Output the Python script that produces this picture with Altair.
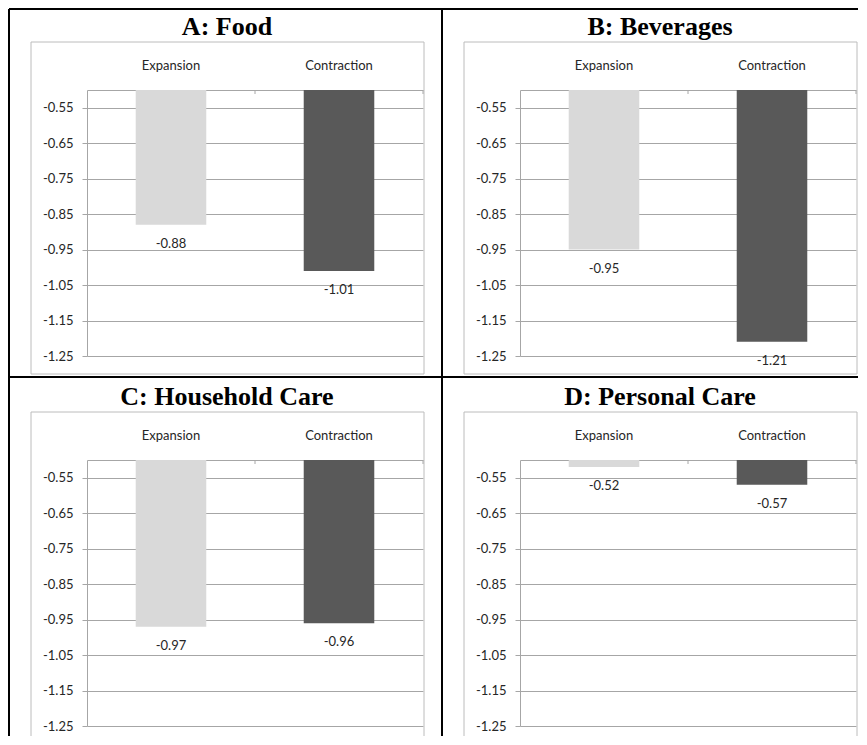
import altair as alt
import pandas as pd

panels = ["A: Food", "B: Beverages", "C: Household Care", "D: Personal Care"]
categories = ["Expansion", "Contraction"]
expansion = [-0.88, -0.95, -0.97, -0.52]
contraction = [-1.01, -1.21, -0.96, -0.57]
y_ticks = [-0.55, -0.65, -0.75, -0.85, -0.95, -1.05, -1.15, -1.25]
bar_colors = ["#d9d9d9", "#595959"]

W, H = 336, 266
GRID = "#a6a6a6"
FRAME = "#bcbcbc"
TXT = "#262626"
FONT = "Lato"

yscale = alt.Scale(domain=[-1.25, -0.5], nice=False, zero=False)
xscale = alt.Scale(domain=categories, paddingInner=0, paddingOuter=0)


def panel_chart(i):
    r, c = i // 2, i % 2
    df = pd.DataFrame({"panel": [panels[i]] * 2, "category": categories,
                       "value": [expansion[i], contraction[i]]})
    base = alt.Chart(df)
    one = base.transform_filter("datum.category == 'Expansion'")

    X_axis = alt.X("category:N", sort=categories, scale=xscale,
                   axis=alt.Axis(orient="top", title=None, ticks=False, tickSize=0,
                                 labelAngle=0, labelFont=FONT, labelFontSize=13,
                                 labelColor=TXT, labelPadding=21,
                                 labelBaseline="alphabetic",
                                 domainColor=GRID, domainWidth=1))
    Y_axis = alt.Y("value:Q", scale=yscale,
                   axis=alt.Axis(title=None, values=y_ticks, tickCount=len(y_ticks),
                                 labelOverlap=False,
                                 labelExpr="'-' + format(abs(datum.value), '.2f')",
                                 labelFont=FONT, labelFontSize=13, labelColor=TXT,
                                 labelPadding=9, tickSize=5, tickColor=GRID,
                                 domainColor=GRID, grid=True, gridColor=GRID,
                                 gridWidth=1))

    bars = base.mark_bar(width=alt.RelativeBandSize(0.42)).encode(
        x=X_axis, y=Y_axis, y2=alt.datum(-0.5),
        color=alt.Color("category:N",
                        scale=alt.Scale(domain=categories, range=bar_colors),
                        legend=None))

    vlabels = base.transform_calculate(
        lab="'-' + format(abs(datum.value), '.2f')"
    ).mark_text(baseline="middle", dy=19, font=FONT, fontSize=13, color=TXT).encode(
        x=alt.X("category:N", sort=categories, scale=xscale),
        y=alt.Y("value:Q", scale=yscale),
        text="lab:N")

    cat_ticks = base.mark_rule(color=GRID, strokeWidth=1).encode(
        x=alt.X("category:N", sort=categories, scale=xscale, bandPosition=1),
        y=alt.value(0), y2=alt.value(4))

    title = one.mark_text(
        font="Liberation Serif", fontWeight="bold", fontSize=26, color="#000000",
        align="center", baseline="alphabetic").encode(
        x=alt.value(140), y=alt.value(-55), text="panel:N")

    layers = []
    if r == 0:
        layers.append(one.mark_rect(filled=False, stroke=FRAME, strokeWidth=1).encode(
            x=alt.value(-56), x2=alt.value(W + 1),
            y=alt.value(-48), y2=alt.value(H + 18)))
    else:
        layers.append(one.mark_rule(color=FRAME, strokeWidth=1).encode(
            x=alt.value(-56), x2=alt.value(W + 1), y=alt.value(-48)))
        layers.append(one.mark_rule(color=FRAME, strokeWidth=1).encode(
            x=alt.value(-56), y=alt.value(-48), y2=alt.value(H + 10)))
        layers.append(one.mark_rule(color=FRAME, strokeWidth=1).encode(
            x=alt.value(W + 1), y=alt.value(-48), y2=alt.value(H + 10)))

    ytop = -81 if r == 0 else -83
    xend = W + 20 if c == 0 else W + 2
    ybot = H + 21 if r == 0 else H + 10
    layers.append(one.mark_rule(color="#000000", strokeWidth=2).encode(
        x=alt.value(-78), x2=alt.value(xend), y=alt.value(ytop)))
    layers.append(one.mark_rule(color="#000000", strokeWidth=2).encode(
        x=alt.value(-78), y=alt.value(ytop), y2=alt.value(ybot)))

    layers += [bars, cat_ticks, vlabels, title]
    return alt.layer(*layers).properties(width=W, height=H)


chart = alt.concat(
    *[panel_chart(i) for i in range(4)],
    columns=2,
    spacing={"row": 104, "column": 97},
    bounds="flush",
).properties(padding=0).configure_view(stroke=None)

chart.save("out.html", embed_options={"renderer": "svg", "actions": False})
